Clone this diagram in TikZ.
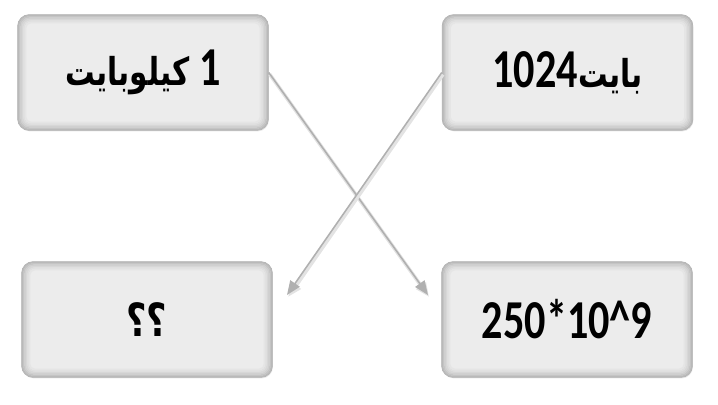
\documentclass[tikz,border=0pt]{standalone}
\usepackage{fontspec}
\usepackage{graphicx}
\usetikzlibrary{shapes, arrows.meta, calc, positioning, shadows}
\TeXXeTstate=1
\newfontfamily\arabicfont[Script=Arabic]{DejaVu Sans}
\newfontfamily\latinfont{Carlito}
\newcommand{\tallbox}[1]{\scalebox{1}[1.3]{#1}}
\newcommand{\digits}[1]{{\fontsize{30}{30}\selectfont\latinfont #1}}

\begin{document}
\begin{tikzpicture}[x=0.025cm, y=-0.025cm, >={Triangle[width=8pt, length=10pt]}]
	\tikzstyle{cell} = [draw=gray!62, line width=1pt, fill=gray!15, rounded corners=8pt, minimum width=6.25cm, minimum height=2.875cm, inner sep=0pt, font=\bfseries, drop shadow={opacity=0.18, shadow xshift=0.6pt, shadow yshift=-1pt}]
	\tikzstyle{link} = [->, draw=gray!62, line width=1.1pt, preaction={draw=gray!22, line width=2.6pt, transform canvas={shift={(0.8pt,-1.4pt)}}}]

	\useasboundingbox (0,0) rectangle (718,404);

	\path
		node[cell] (kilo) at (143,72.5) {\tallbox{\fontsize{21}{21}\selectfont\arabicfont\beginR\digits{1} كيلوبايت\endR}}
		node[cell] (bytes) at (567.5,72.5) {\tallbox{\fontsize{21}{21}\selectfont\arabicfont\beginR بايت\beginL\digits{1024}\endL\endR}}
		node[cell] (ask) at (147,319.5) {\tallbox{\fontsize{25}{25}\selectfont\arabicfont ؟؟}}
		node[cell] (giga) at (567,319.5) {\tallbox{\digits{250*10\^{}9}}}
	;

	% inner glow of the boxes
	\foreach \n in {kilo, bytes, ask, giga}
		\foreach \k/\c in {1.2/55, 2.6/46, 4/38, 5.4/31, 6.8/25, 8.2/20}
			\draw[gray!\c, line width=1.2pt, rounded corners=8pt-\k*0.5pt]
				($(\n.north west)+(\k,\k)$) rectangle ($(\n.south east)-(\k,\k)$);

	\coordinate (tipGiga) at (428,295);
	\coordinate (tipAsk) at (287,295);

	\path
		(kilo.east) edge[link] (tipGiga)
		(bytes.west) edge[link] (tipAsk)
	;
\end{tikzpicture}
\end{document}
